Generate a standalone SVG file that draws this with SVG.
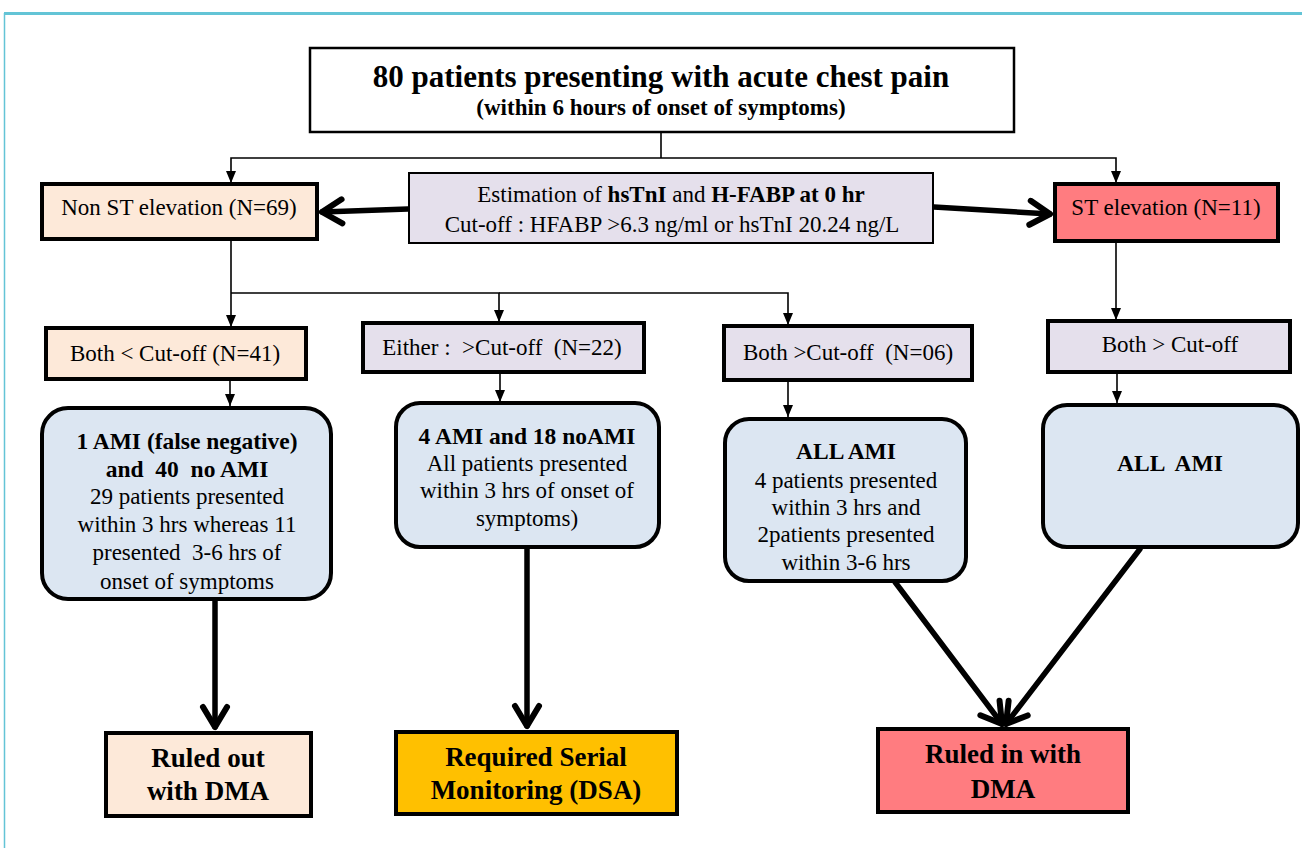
<svg xmlns="http://www.w3.org/2000/svg" width="1302" height="848" viewBox="0 0 1302 848">
<defs>
<style>
text{font-family:"Liberation Serif","Times New Roman",serif;fill:#000;text-anchor:middle;white-space:pre}
.t20{font-size:23px}
.b20{font-size:23.5px;font-weight:bold}
.b24{font-size:27px;font-weight:bold}
.b{font-weight:bold}
.box{stroke:#000;stroke-width:4}
.thin{stroke:#000;stroke-width:1.6;fill:none}
.thick{stroke:#000;stroke-width:5.5;fill:none;stroke-linecap:round}
.peach{fill:#FDE9D9}
.lav{fill:#E5E0EC}
.blue{fill:#DCE6F2}
.red{fill:#FF7C80}
.orange{fill:#FFC000}
</style>
<marker id="ah" markerUnits="userSpaceOnUse" viewBox="0 0 12 10" refX="12" refY="5" markerWidth="12" markerHeight="10" orient="auto">
<path d="M0,0 L12,5 L0,10 z" fill="#000"/>
</marker>
<marker id="av" markerUnits="userSpaceOnUse" viewBox="-24 -16 30 32" refX="0" refY="0" markerWidth="30" markerHeight="32" orient="auto" overflow="visible">
<path d="M-20,-12 L0,0 L-20,12" fill="none" stroke="#000" stroke-width="6" stroke-linecap="round" stroke-linejoin="round"/>
</marker>
</defs>
<rect width="1302" height="848" fill="#fff"/>
<g id="frame">
<line x1="4" y1="13.5" x2="1302" y2="13.5" stroke="#63C4D6" stroke-width="3"/>
<line x1="4.5" y1="13" x2="4.5" y2="848" stroke="#63C4D6" stroke-width="1.5"/>
</g>
<g id="connectors">
<polyline class="thin" points="661,132 661,158"/>
<polyline class="thin" points="661,158 231,158 231,183" marker-end="url(#ah)"/>
<polyline class="thin" points="661,158 1116,158 1116,183" marker-end="url(#ah)"/>
<polyline class="thin" points="231,240 231,293 231,327" marker-end="url(#ah)"/>
<polyline class="thin" points="231,293 499,293 499,322" marker-end="url(#ah)"/>
<polyline class="thin" points="499,293 788,293 788,325" marker-end="url(#ah)"/>
<polyline class="thin" points="1116,242 1116,320" marker-end="url(#ah)"/>
<polyline class="thin" points="230,379 230,406" marker-end="url(#ah)"/>
<polyline class="thin" points="500,372 500,402" marker-end="url(#ah)"/>
<polyline class="thin" points="788,380 788,417" marker-end="url(#ah)"/>
<polyline class="thin" points="1117,372 1117,403" marker-end="url(#ah)"/>
<line class="thick" x1="408" y1="209" x2="322" y2="212" marker-end="url(#av)"/>
<line class="thick" x1="934" y1="207" x2="1050" y2="214" marker-end="url(#av)"/>
<line class="thick" x1="215" y1="600" x2="215" y2="727" marker-end="url(#av)"/>
<line class="thick" x1="527" y1="548" x2="527" y2="726" marker-end="url(#av)"/>
<line class="thick" x1="895" y1="582" x2="1002" y2="724" marker-end="url(#av)"/>
<line class="thick" x1="1140" y1="549" x2="1006" y2="724" marker-end="url(#av)"/>
</g>
<g id="n-top">
<rect x="310" y="48" width="704" height="84" fill="#fff" stroke="#000" stroke-width="2.5"/>
<text x="661" y="87" style="font-size:31px;font-weight:bold">80 patients presenting with acute chest pain</text>
<text x="661" y="115" style="font-size:23px;font-weight:bold">(within 6 hours of onset of symptoms)</text>
</g>
<g id="n-nonst">
<rect class="box peach" x="42" y="184" width="275" height="55"/>
<text class="t20" x="179" y="215">Non ST elevation (N=69)</text>
</g>
<g id="n-est">
<rect class="lav" x="409" y="173" width="524" height="70" stroke="#000" stroke-width="2"/>
<text class="t20" x="671" y="202">Estimation of <tspan class="b">hsTnI</tspan> and <tspan class="b">H-FABP at 0 hr</tspan></text>
<text class="t20" x="672" y="232">Cut-off : HFABP &gt;6.3 ng/ml or hsTnI 20.24 ng/L</text>
</g>
<g id="n-st">
<rect class="box red" x="1055" y="184" width="223" height="57"/>
<text class="t20" x="1166" y="215">ST elevation (N=11)</text>
</g>
<g id="n-both-lt">
<rect class="box peach" x="46" y="328" width="260" height="51"/>
<text class="t20" x="175" y="361">Both &lt; Cut-off (N=41)</text>
</g>
<g id="n-either">
<rect class="box lav" x="363" y="323" width="281" height="49"/>
<text class="t20" x="502" y="355">Either :  &gt;Cut-off  (N=22)</text>
</g>
<g id="n-both-gt06">
<rect class="box lav" x="724" y="326" width="248" height="54"/>
<text class="t20" x="848" y="360">Both &gt;Cut-off  (N=06)</text>
</g>
<g id="n-both-gt">
<rect class="box lav" x="1048" y="321" width="242" height="51"/>
<text class="t20" x="1170" y="352">Both &gt; Cut-off</text>
</g>
<g id="n-a">
<rect class="box blue" x="42" y="408" width="289" height="191" rx="26"/>
<text class="b20" x="187" y="449">1 AMI (false negative)</text>
<text class="b20" x="187" y="477">and  40  no AMI</text>
<text class="t20" x="187" y="504">29 patients presented</text>
<text class="t20" x="187" y="532">within 3 hrs whereas 11</text>
<text class="t20" x="187" y="560">presented  3-6 hrs of</text>
<text class="t20" x="187" y="589">onset of symptoms</text>
</g>
<g id="n-b">
<rect class="box blue" x="396" y="403" width="263" height="144" rx="24"/>
<text class="b20" x="527" y="444">4 AMI and 18 noAMI</text>
<text class="t20" x="527" y="471">All patients presented</text>
<text class="t20" x="527" y="498">within 3 hrs of onset of</text>
<text class="t20" x="527" y="526">symptoms)</text>
</g>
<g id="n-c">
<rect class="box blue" x="725" y="419" width="241" height="162" rx="24"/>
<text class="b20" x="846" y="459">ALL AMI</text>
<text class="t20" x="846" y="488">4 patients presented</text>
<text class="t20" x="846" y="515">within 3 hrs and</text>
<text class="t20" x="846" y="542">2patients presented</text>
<text class="t20" x="846" y="570">within 3-6 hrs</text>
</g>
<g id="n-d">
<rect class="box blue" x="1043" y="405" width="255" height="142" rx="24"/>
<text class="b20" x="1170" y="471">ALL  AMI</text>
</g>
<g id="n-out">
<rect class="box peach" x="106" y="733" width="205" height="83"/>
<text class="b24" x="208" y="767">Ruled out</text>
<text class="b24" x="208" y="800">with DMA</text>
</g>
<g id="n-dsa">
<rect class="box orange" x="396" y="732" width="281" height="82"/>
<text class="b24" x="536" y="766">Required Serial</text>
<text class="b24" x="536" y="799">Monitoring (DSA)</text>
</g>
<g id="n-in">
<rect class="box red" x="878" y="729" width="250" height="83"/>
<text class="b24" x="1003" y="763">Ruled in with</text>
<text class="b24" x="1003" y="798">DMA</text>
</g>
</svg>
